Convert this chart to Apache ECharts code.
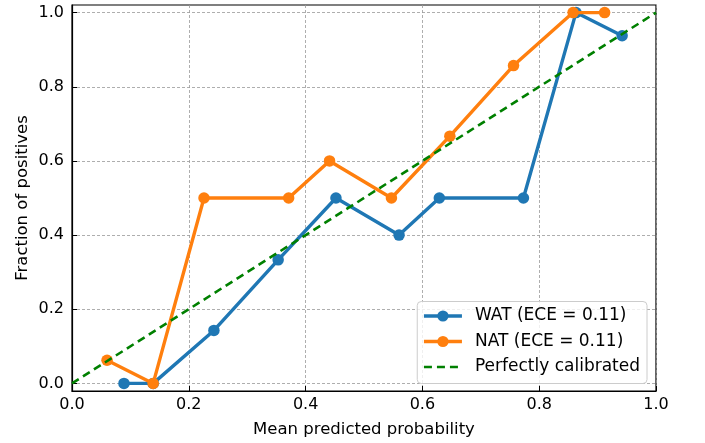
<!DOCTYPE html>
<html>
<head>
<meta charset="utf-8">
<script src="https://cdn.jsdelivr.net/npm/echarts@6/dist/echarts.min.js"></script>
<style>html,body{margin:0;padding:0;background:#fff;}#c{width:705px;height:443px;}</style>
</head>
<body>
<div id="c"></div>
<script>
const watX = [0.089, 0.139, 0.243, 0.353, 0.452, 0.560, 0.629, 0.773, 0.863, 0.942];
const watY = [0.0, 0.0, 0.1429, 0.3333, 0.5, 0.4, 0.5, 0.5, 1.0, 0.9375];
const natX = [0.060, 0.139, 0.226, 0.371, 0.441, 0.547, 0.647, 0.756, 0.858, 0.912];
const natY = [0.0625, 0.0, 0.5, 0.5, 0.6, 0.5, 0.6667, 0.8571, 1.0, 1.0];
const diagX = [0, 1];
const diagY = [0, 1];
const yTicks = [0, 0.2, 0.4, 0.6, 0.8, 1.0];
const seriesNames = ['WAT (ECE = 0.11)', 'NAT (ECE = 0.11)', 'Perfectly calibrated'];

const zip = (a, b) => a.map((v, i) => [v, b[i]]);
const font = 'DejaVu Sans';
const chart = echarts.init(document.getElementById('c'), null, {renderer: 'canvas'});
chart.setOption({
  animation: false,
  backgroundColor: '#fff',
  grid: {left: 72, right: 49, top: 5, bottom: 50.5, show: true, borderColor: '#000', borderWidth: 1.2, backgroundColor: 'transparent'},
  xAxis: {
    type: 'value', min: 0, max: 1, interval: 0.2,
    name: 'Mean predicted probability', nameLocation: 'middle', nameGap: 30, nameMoveOverlap: false,
    nameTextStyle: {fontFamily: font, fontSize: 16.5, color: '#000'},
    axisLine: {show: true, onZero: false, lineStyle: {color: '#000', width: 1.2}},
    axisTick: {show: true, inside: true, length: 5, lineStyle: {color: '#000', width: 1}},
    axisLabel: {fontFamily: font, fontSize: 16, color: '#000', margin: 6, formatter: v => v.toFixed(1)},
    splitLine: {show: true, lineStyle: {color: '#999', width: 0.8, type: [3, 2]}}
  },
  yAxis: {
    type: 'value', min: -0.0205, max: 1.0205,
    name: 'Fraction of positives', nameLocation: 'middle', nameGap: 41, nameMoveOverlap: false,
    nameTextStyle: {fontFamily: font, fontSize: 16.5, color: '#000'},
    axisLine: {show: true, onZero: false, lineStyle: {color: '#000', width: 1.2}},
    axisTick: {show: true, inside: true, length: 5, customValues: yTicks, lineStyle: {color: '#000', width: 1}},
    axisLabel: {fontFamily: font, fontSize: 16, color: '#000', margin: 8, customValues: yTicks, formatter: v => v.toFixed(1)},
    splitLine: {show: true, customValues: yTicks, lineStyle: {color: '#999', width: 0.8, type: [3, 2]}}
  },
  legend: {
    orient: 'vertical', right: 58, bottom: 59.5,
    data: [
      {name: seriesNames[0], lineStyle: {width: 3.4}},
      {name: seriesNames[1], lineStyle: {width: 3.4}},
      {name: seriesNames[2], lineStyle: {width: 2.6}, itemStyle: {opacity: 0}}
    ],
    itemWidth: 38, itemHeight: 14, itemGap: 8.5,
    padding: [6, 7, 8, 5],
    backgroundColor: 'rgba(255,255,255,0.8)', borderColor: '#ccc', borderWidth: 1, borderRadius: 4,
    textStyle: {fontFamily: font, fontSize: 17, color: '#000', padding: [0, 0, 0, 8]}
  },
  series: [
    {name: seriesNames[0], type: 'line', data: zip(watX, watY), symbol: 'circle', symbolSize: 11.5,
     lineStyle: {color: '#1f77b4', width: 3.4}, itemStyle: {color: '#1f77b4'}, z: 3},
    {name: seriesNames[1], type: 'line', data: zip(natX, natY), symbol: 'circle', symbolSize: 11.5,
     lineStyle: {color: '#ff7f0e', width: 3.4}, itemStyle: {color: '#ff7f0e'}, z: 4},
    {name: seriesNames[2], type: 'line', data: zip(diagX, diagY), symbol: 'none',
     lineStyle: {color: '#008000', width: 2.6, type: [8, 5]}, itemStyle: {color: '#008000'}, z: 5}
  ]
});
</script>
</body>
</html>
